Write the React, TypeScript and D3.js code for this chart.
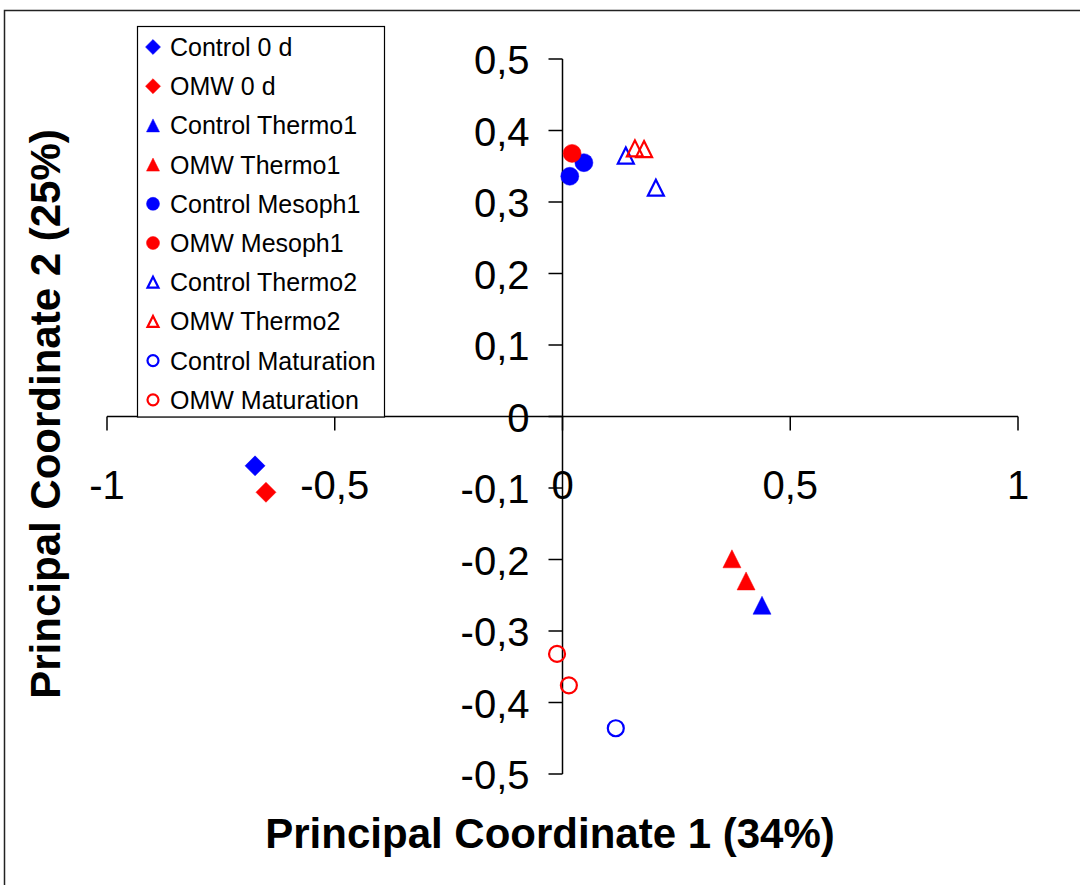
import * as d3 from 'd3';

// series values (PCoA scores)
const seriesNames = [
  'Control 0 d',
  'OMW 0 d',
  'Control Thermo1',
  'OMW Thermo1',
  'Control Mesoph1',
  'OMW Mesoph1',
  'Control Thermo2',
  'OMW Thermo2',
  'Control Maturation',
  'OMW Maturation',
];
const seriesColors = ['#0000ff', '#ff0000', '#0000ff', '#ff0000', '#0000ff', '#ff0000', '#0000ff', '#ff0000', '#0000ff', '#ff0000'];
const seriesShapes = ['diamond', 'diamond', 'triangle', 'triangle', 'circle', 'circle', 'triangle', 'triangle', 'circle', 'circle'];
const seriesFilled = [true, true, true, true, true, true, false, false, false, false];

const xValues = [
  [-0.675],
  [-0.651],
  [0.438],
  [0.372, 0.403],
  [0.016, 0.047],
  [0.021],
  [0.139, 0.205],
  [0.159, 0.179],
  [0.117],
  [-0.012, 0.014],
];
const yValues = [
  [-0.069],
  [-0.106],
  [-0.264],
  [-0.199, -0.23],
  [0.336, 0.355],
  [0.368],
  [0.365, 0.32],
  [0.375, 0.374],
  [-0.436],
  [-0.332, -0.376],
];

const xTicks = [-1, -0.5, 0, 0.5, 1];
const yTicks = [0.5, 0.4, 0.3, 0.2, 0.1, 0, -0.1, -0.2, -0.3, -0.4, -0.5];

const xTitle = 'Principal Coordinate 1 (34%)';
const yTitle = 'Principal Coordinate 2 (25%)';

// comma decimal, plain hyphen for minus (as in the original)
const locale = d3.formatLocale({ decimal: ',', thousands: '.', grouping: [3], currency: ['', ''], minus: '-' });
const fmt = (v: number) => {
  const s = locale.format('.1f')(v);
  return s.replace(/,0$/, '').replace(/^-0$/, '0');
};

const FONT = '"Liberation Sans", Arial, sans-serif';

function markerPath(shape: string, size: number) {
  if (shape === 'diamond') {
    return d3.symbol(d3.symbolSquare, (size * size) / 2)() as string;
  }
  if (shape === 'circle') {
    return d3.symbol(d3.symbolCircle, (Math.PI * size * size) / 4)() as string;
  }
  const p = d3.path();
  p.moveTo(0, -size / 2);
  p.lineTo(size / 2, size / 2);
  p.lineTo(-size / 2, size / 2);
  p.closePath();
  return p.toString();
}

function Marker({ shape, filled, color, size, x, y }: any) {
  const rot = shape === 'diamond' ? ' rotate(45)' : '';
  const s = filled ? size : size - 2;
  return (
    <path
      d={markerPath(shape, s)}
      transform={`translate(${x},${y})${rot}`}
      fill={filled ? color : 'none'}
      stroke={color}
      strokeWidth={filled ? 0.5 : 2.2}
      strokeLinejoin="miter"
    />
  );
}

export default function App() {
  const width = 1080;
  const height = 885;
  const x = d3.scaleLinear().domain([-1, 1]).range([107, 1018]);
  const y = d3.scaleLinear().domain([-0.5, 0.5]).range([774, 59]);
  const x0 = x(0);
  const y0 = y(0);

  const legX = 137;
  const legY = 26;
  const legW = 247;
  const legH = y0 - legY;
  const rowH = 39.2;

  return (
    <svg
      width={width}
      height={height}
      style={{ position: 'absolute', left: 0, top: 0, background: '#fff' }}
      fontFamily={FONT}
    >
      <rect x={0} y={0} width={width} height={height} fill="#fff" />
      {/* outer frame */}
      <path d={`M4.5,${height} V10.5 H${width}`} fill="none" stroke="#222" strokeWidth={1.5} />

      {/* x axis */}
      <line x1={x(-1)} x2={x(1)} y1={y0} y2={y0} stroke="#000" strokeWidth={1.5} />
      {xTicks.map((t) => (
        <g key={'xt' + t}>
          <line x1={x(t)} x2={x(t)} y1={y0} y2={y0 + 14} stroke="#000" strokeWidth={1.5} />
          <text x={x(t)} y={y0 + 82} fontSize={40} textAnchor="middle" fill="#000">
            {fmt(t)}
          </text>
        </g>
      ))}

      {/* y axis */}
      <line x1={x0} x2={x0} y1={y(0.5)} y2={y(-0.5)} stroke="#000" strokeWidth={1.5} />
      {yTicks.map((t) => (
        <g key={'yt' + t}>
          <line x1={x0 - 14} x2={x0} y1={y(t)} y2={y(t)} stroke="#000" strokeWidth={1.5} />
          <text x={x0 - 33} y={y(t) + 15} fontSize={40} textAnchor="end" fill="#000">
            {fmt(t)}
          </text>
        </g>
      ))}

      {/* data */}
      {seriesNames.map((name, i) =>
        xValues[i].map((xv, j) => (
          <Marker
            key={name + j}
            shape={seriesShapes[i]}
            filled={seriesFilled[i]}
            color={seriesColors[i]}
            size={seriesShapes[i] === 'diamond' ? 20 : 18}
            x={x(xv)}
            y={y(yValues[i][j])}
          />
        ))
      )}

      {/* legend */}
      <rect x={legX + 0.5} y={legY + 0.5} width={legW} height={legH} fill="#fff" stroke="#000" strokeWidth={1.2} />
      {seriesNames.map((name, i) => {
        const cy = legY + 21 + i * rowH;
        return (
          <g key={'lg' + name}>
            <Marker
              shape={seriesShapes[i]}
              filled={seriesFilled[i]}
              color={seriesColors[i]}
              size={seriesShapes[i] === 'diamond' ? 15 : 13}
              x={legX + 16}
              y={cy}
            />
            <text x={legX + 33} y={cy + 9} fontSize={25} fill="#000">
              {name}
            </text>
          </g>
        );
      })}

      {/* axis titles */}
      <text x={550} y={848} fontSize={42} fontWeight="bold" textAnchor="middle" fill="#000">
        {xTitle}
      </text>
      <text
        transform={`translate(60,414) rotate(-90)`}
        fontSize={42}
        fontWeight="bold"
        textAnchor="middle"
        fill="#000"
      >
        {yTitle}
      </text>
    </svg>
  );
}
